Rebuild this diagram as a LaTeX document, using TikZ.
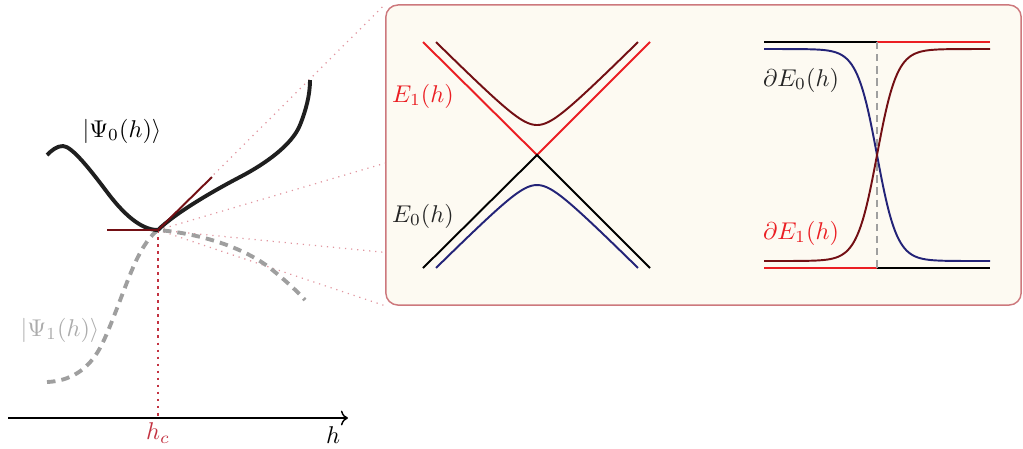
\documentclass[tikz,border=0pt]{standalone}
\usepackage{tikz}
\usetikzlibrary{arrows.meta,positioning,calc}

\definecolor{lvlred}{RGB}{235,30,35}
\definecolor{lvlmaroon}{RGB}{115,15,20}
\definecolor{lvlnavy}{RGB}{35,35,120}
\definecolor{panelfill}{RGB}{253,250,242}
\definecolor{paneldraw}{RGB}{205,120,125}
\definecolor{zoomline}{RGB}{225,150,160}
\definecolor{critred}{RGB}{195,50,65}

\begin{document}
\begin{tikzpicture}[
    x=0.0145cm, y=-0.0145cm,
    state/.style={line width=1.6pt, black!88},
    excited/.style={line width=1.6pt, gray!75, dash pattern=on 3.5pt off 2.5pt},
    tangent/.style={line width=0.8pt, lvlmaroon},
    zoom/.style={dotted, zoomline, line width=0.5pt},
    level/.style={line width=0.8pt},
    panel/.style={rectangle, rounded corners=5pt, draw=paneldraw, fill=panelfill, line width=0.6pt, minimum width=9.21cm, minimum height=4.35cm},
    axis/.style={->, line width=0.6pt}
]

\useasboundingbox (0,0) rectangle (1023,448);

% Zoom panel
\node[panel] (panel) at (703.5,155) {};

% Critical point and axis
\coordinate (crit) at (158,230);
\coordinate (axisL) at (8,418);
\coordinate (axisR) at (348,418);
\coordinate (critaxis) at (158,418);
\draw[axis] (axisL) -- (axisR);
\node (hlab) at (333,435) {$h$};
\node[text=critred] (hclab) at (158,433) {$h_c$};
\draw[critred, line width=1.1pt, dash pattern=on 1.1pt off 1.8pt] (crit) -- (critaxis);

% Zoom lines
\draw[zoom] (crit) -- (panel.north west);
\draw[zoom] (crit) -- (panel.south west);
\foreach \t in {0.527,0.823} {
    \draw[zoom] (crit) -- ($(panel.north west)!\t!(panel.south west)$);
}

% Excited state
\draw[excited] (47,382) .. controls (70,381) and (88,370) .. (100,348)
    .. controls (110,330) and (125,285) .. (135,263)
    .. controls (143,246) and (150,236) .. (crit)
    .. controls (195,233) and (240,245) .. (270,268)
    .. controls (285,280) and (298,292) .. (305,300);
\node[text=gray!65] (psi1) at (60,330) {$|\Psi_1(h)\rangle$};

% Ground state
\draw[state] (47,155) .. controls (52,150) and (57,146) .. (63,146)
    .. controls (72,146) and (92,172) .. (107,192)
    .. controls (122,212) and (140,230) .. (crit);
\draw[state] (crit) .. controls (175,213) and (215,190) .. (240,177)
    .. controls (265,164) and (292,145) .. (300,125)
    .. controls (306,110) and (310,95) .. (310,80);
\node (psi0) at (122,131) {$|\Psi_0(h)\rangle$};

% Tangents at the kink
\coordinate (tanL) at (107,230);
\coordinate (tanR) at (212,177);
\draw[tangent] (tanL) -- (crit) -- (tanR);

% Energy levels
\coordinate (xing) at (537,155);
\draw[level, lvlred] (423,42) -- (xing) -- (650,42);
\draw[level, black] (423,268) -- (xing) -- (650,268);
\draw[level, lvlmaroon] plot[domain=436:638, samples=90] (\x, {145 - sqrt((\x-537)^2 + 20^2)});
\draw[level, lvlnavy] plot[domain=436:638, samples=90] (\x, {165 + sqrt((\x-537)^2 + 20^2)});
\node[text=lvlred] (e1) at (423,96) {$E_1(h)$};
\node[text=black!85] (e0) at (423,216) {$E_0(h)$};

% Derivatives
\coordinate (jumpT) at (877,42);
\coordinate (jumpB) at (877,268);
\draw[level, black] (764,42) -- (jumpT);
\draw[level, lvlred] (jumpT) -- (990,42);
\draw[level, lvlred] (764,268) -- (jumpB);
\draw[level, black] (jumpB) -- (990,268);
\draw[level, gray!75, dash pattern=on 3pt off 2pt] (jumpT) -- (jumpB);
\draw[level, lvlnavy] plot[domain=764:990, samples=120] (\x, {155 + 106*tanh((\x-877)/20)});
\draw[level, lvlmaroon] plot[domain=764:990, samples=120] (\x, {155 - 106*tanh((\x-877)/20)});
\node[text=black!85] (de0) at (801,80) {$\partial E_0(h)$};
\node[text=lvlred] (de1) at (801,233) {$\partial E_1(h)$};

\end{tikzpicture}
\end{document}
